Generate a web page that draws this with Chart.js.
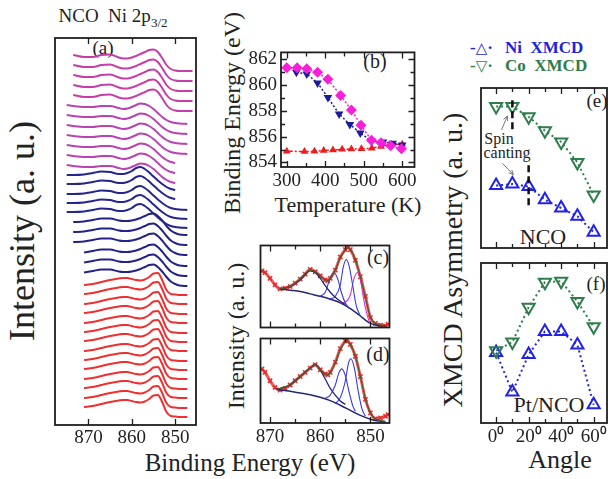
<!DOCTYPE html>
<html><head><meta charset="utf-8">
<script src="https://cdn.jsdelivr.net/npm/chart.js@4.4.1/dist/chart.umd.min.js"></script>
<style>
body{margin:0;background:#fff;width:616px;height:479px;overflow:hidden;position:relative;font-family:"Liberation Serif","Times New Roman",serif;}
canvas{position:absolute;}
.t{position:absolute;white-space:nowrap;color:#222;line-height:1;}
.c{transform:translate(-50%,-50%);}
.l{transform:translate(0,-50%);}
.rot{transform:translate(-50%,-50%) rotate(-90deg);}
sub{font-size:13px;vertical-align:-5px;}
.sym{font-family:"DejaVu Sans",sans-serif;font-weight:bold;font-size:15px;}
</style></head><body>
<div class="t c" style="left:113px;top:17px;font-size:19px">NCO&nbsp; Ni 2p<sub>3/2</sub></div>
<div class="t c" style="left:103px;top:47px;font-size:19px">(a)</div>
<div class="t rot" style="left:22px;top:231px;font-size:36px">Intensity (a. u.)</div>
<div class="t c" style="left:250px;top:462px;font-size:25px">Binding Energy (eV)</div>
<div class="t rot" style="left:232px;top:113px;font-size:24px">Binding Energy (eV)</div>
<div class="t c" style="left:348px;top:205px;font-size:22px">Temperature (K)</div>
<div class="t c" style="left:375px;top:61px;font-size:20px">(b)</div>
<div class="t rot" style="left:236px;top:336px;font-size:24px">Intensity (a. u.)</div>
<div class="t c" style="left:378px;top:257px;font-size:20px">(c)</div>
<div class="t c" style="left:378px;top:354px;font-size:20px">(d)</div>
<div class="t l" style="left:470px;top:47px;font-size:17px;font-weight:bold;color:#2323d8">-<span class="sym">△</span>·</div>
<div class="t l" style="left:505px;top:47px;font-size:17px;font-weight:bold;color:#2323d8">Ni&nbsp; XMCD</div>
<div class="t l" style="left:470px;top:65px;font-size:17px;font-weight:bold;color:#2e7d4a">-<span class="sym">▽</span>·</div>
<div class="t l" style="left:505px;top:65px;font-size:17px;font-weight:bold;color:#2e7d4a">Co&nbsp; XMCD</div>
<div class="t rot" style="left:453px;top:260px;font-size:28px">XMCD Asymmetry (a. u.)</div>
<div class="t c" style="left:560px;top:460px;font-size:26px">Angle</div>
<div class="t c" style="left:543px;top:237px;font-size:22px">NCO</div>
<div class="t c" style="left:549px;top:405px;font-size:22px">Pt/NCO</div>
<div class="t c" style="left:597px;top:100px;font-size:19px">(e)</div>
<div class="t c" style="left:596px;top:283px;font-size:19px">(f)</div>
<div class="t c" style="left:499px;top:139px;font-size:16px">Spin</div>
<div class="t c" style="left:507px;top:153px;font-size:16px">canting</div>
<script>
// ---------- Panel (a): stacked Ni 2p3/2 spectra ----------
const aEnergy = [875, 873.5, 871, 869, 867, 865, 863, 862, 861, 860, 859, 858, 857, 856, 855, 854, 853, 852, 851, 850, 849, 847.2, 846];
const aShapeM1 = [0, 0, -2, -2, 0, 0.5, -2.5, -3.5, -3.5, -2.5, -1, 1, 3, 5, 5.5, 3, -3, -10, -14, -15.5, -16, -16, -16];
const aShapeM2 = [0, -1, -2, -2, -1, -1, -3, -4, -3.5, -2, 0, 1.5, 1, -1, -4, -8, -12, -15, -17, -18, -18.5, -19, -19];
const aShapeB1 = [0, 0, 0.5, 2, 3.5, 3, 1, 1, 2, 4, 7, 8, 6, 2.5, -1.5, -5.5, -9, -12, -14, -15, -15.5, -16, -16];
const aShapeB2 = [null, 0, 0.5, 2, 3.5, 3.5, 1.5, 1, 1, 1.5, 2.5, 4, 6, 8, 8.5, 6, 1.5, -4, -8.5, -11, -12.5, -13, -13];
const aShapeR = [null, null, 0, 1, 3, 5, 6.5, 7, 7, 6, 5, 4.5, 5.5, 8, 11.5, 12, 5, -5, -9, -9.5, -10, -10, -10];
const aLevels = [370, 360, 350, 340, 330, 320, 310, 300, 290, 280, 270, 260,
  250, 241, 231, 222, 213, 203, 193, 183, 172, 162, 152,
  140, 131, 121, 112, 102, 93, 84, 74, 65, 56, 46, 37, 27, 18];
const aShapeOf = ['M1','M1','M1','M1','M1','M2','M2','M2','M2','M2','M2','M2',
  'B1','B1','B1','B1','B1','B2','B2','B2','B2','B2','B2',
  'R','R','R','R','R','R','R','R','R','R','R','R','R','R'];
const aStartE = [873.5,873.5,873.5,873.5,873.5,875,875,875,875,875,875,875,
  875,875,875,875,875,875,873.5,873.5,871,871,871,
  871,871,871,871,871,871,871,871,871,871,871,871,871,871];
const aEndE = [846,846,846,846,846,847.2,847.2,847.2,847.2,850,850,850,
  850,850,847.2,847.2,847.2,847.2,847.2,847.2,847.2,847.2,847.2,
  847.2,847.2,847.2,847.2,847.2,847.2,847.2,847.2,847.2,847.2,847.2,847.2,847.2,847.2];
const aTicks = [850, 860, 870];

// ---------- Panel (b): binding energy vs temperature ----------
const bTempMag = [300, 327, 352, 380, 407, 440, 468, 493, 520, 545, 570, 598];
const bBEMag = [861.35, 861.35, 861.28, 861.0, 860.46, 859.2, 858.07, 856.9, 855.73, 855.54, 855.3, 855.07];
const bTempBlue = [325, 352, 380, 407, 436, 464, 491, 520, 550, 575, 600];
const bBEBlue = [861.0, 860.88, 860.17, 859.05, 857.77, 856.95, 856.3, 855.66, 855.6, 855.5, 855.35];
const bTempRed = [300, 346, 372, 396, 420, 444, 468, 494, 521, 545, 572, 600];
const bBERed = [854.88, 854.85, 854.87, 854.93, 854.97, 855.02, 855.05, 855.07, 855.1, 855.25, 855.4, 855.42];
const bXTicks = [300, 350, 400, 450, 500, 550, 600];
const bXLabels = [300, 400, 500, 600];
const bYTicks = [854, 855, 856, 857, 858, 859, 860, 861, 862];
const bYLabels = [854, 856, 858, 860, 862];

// ---------- Panel (c): fitted spectrum ----------
const cExpE = [871.6, 871, 870, 869, 868, 867, 866, 865, 864, 863, 862, 861, 860, 859, 858.5, 858, 857, 856, 855, 854.5, 854, 853, 852, 851, 850, 849, 848, 847, 846.5];
const cExpY = [0.69, 0.67, 0.60, 0.52, 0.47, 0.48, 0.50, 0.54, 0.59, 0.65, 0.71, 0.68, 0.63, 0.58, 0.57, 0.60, 0.70, 0.86, 0.95, 0.98, 0.95, 0.82, 0.62, 0.38, 0.12, 0.05, 0.03, 0.02, 0.04];
const cFitE = [868, 866, 864, 862, 861, 860, 859, 858.5, 858, 857, 856, 855, 854.5, 854, 853, 852, 851, 850, 849, 848, 847];
const cFitY = [0.47, 0.50, 0.59, 0.70, 0.68, 0.63, 0.58, 0.575, 0.60, 0.70, 0.85, 0.94, 0.97, 0.95, 0.83, 0.62, 0.37, 0.13, 0.05, 0.03, 0.02];
const cBgE = [868, 866, 864, 862, 860, 858, 856, 854, 852, 851, 850, 849, 848, 847];
const cBgY = [0.47, 0.455, 0.44, 0.41, 0.38, 0.345, 0.30, 0.23, 0.14, 0.09, 0.05, 0.03, 0.02, 0.02];
const cSatE = [868, 866, 864, 862, 861, 860, 859, 858, 857, 856, 855];
const cSatY = [0.47, 0.50, 0.58, 0.69, 0.67, 0.60, 0.51, 0.43, 0.37, 0.32, 0.28];
const cPk1E = [860, 859, 858.2, 857.3, 856.5, 855.8, 855, 854.2];
const cPk1Y = [0.38, 0.43, 0.57, 0.67, 0.59, 0.43, 0.30, 0.23];
const cPk2E = [858, 857, 856, 855.4, 854.8, 854.2, 853.5, 852.8, 852];
const cPk2Y = [0.35, 0.38, 0.52, 0.74, 0.83, 0.74, 0.50, 0.26, 0.14];
const cPk3E = [856, 855, 854, 853.3, 852.6, 852, 851.3, 850.5, 850];
const cPk3Y = [0.30, 0.31, 0.40, 0.59, 0.67, 0.58, 0.33, 0.12, 0.05];

// ---------- Panel (d): fitted spectrum ----------
const dExpE = [871.6, 871, 870, 869, 868, 867, 866, 865, 864, 863, 862, 861, 860, 859, 858.5, 858, 857, 856, 855, 854.7, 854, 853, 852, 851, 850, 849, 848, 847, 846.5];
const dExpY = [0.64, 0.60, 0.50, 0.42, 0.39, 0.41, 0.45, 0.50, 0.55, 0.60, 0.65, 0.69, 0.63, 0.58, 0.57, 0.60, 0.72, 0.88, 0.97, 0.98, 0.93, 0.79, 0.55, 0.28, 0.12, 0.05, 0.06, 0.08, 0.10];
const dFitE = [868.7, 866, 864, 862, 861, 860, 859, 858.5, 858, 857, 856, 855, 854.7, 854, 853, 852, 851, 850, 849, 848, 847];
const dFitY = [0.40, 0.45, 0.55, 0.65, 0.69, 0.63, 0.58, 0.57, 0.60, 0.71, 0.87, 0.96, 0.97, 0.93, 0.79, 0.55, 0.29, 0.12, 0.05, 0.03, 0.02];
const dBgE = [868.7, 866, 864, 862, 860, 858, 856, 854, 852, 850, 848, 847];
const dBgY = [0.40, 0.375, 0.355, 0.335, 0.305, 0.265, 0.21, 0.15, 0.09, 0.045, 0.02, 0.015];
const dSatE = [868.7, 866, 864, 862, 861, 860, 859, 858, 857, 856, 855];
const dSatY = [0.40, 0.45, 0.55, 0.65, 0.69, 0.63, 0.52, 0.41, 0.33, 0.26, 0.22];
const dPk1E = [859, 858, 857, 856.3, 855.7, 855, 854.3, 853.5, 853];
const dPk1Y = [0.29, 0.33, 0.45, 0.59, 0.64, 0.56, 0.38, 0.20, 0.14];
const dPk2E = [857, 856, 855, 854.4, 853.9, 853.2, 852.5, 851.7, 851];
const dPk2Y = [0.23, 0.30, 0.50, 0.70, 0.76, 0.65, 0.40, 0.17, 0.08];
const cdTicks = [850, 855, 860, 865, 870];
const cdLabels = [850, 860, 870];

// ---------- Panels (e),(f): XMCD asymmetry vs angle ----------
const angles = [0, 10, 20, 30, 40, 50, 60];
const eCo = [0.884, 0.884, 0.820, 0.733, 0.663, 0.535, 0.331];
const eNi = [0.390, 0.400, 0.384, 0.302, 0.250, 0.198, 0.099];
const fCo = [0.452, 0.506, 0.723, 0.880, 0.886, 0.759, 0.602];
const fNi = [0.440, 0.193, 0.428, 0.572, 0.572, 0.488, 0.114];
const angleTicks = [0, 10, 20, 30, 40, 50, 60];
const angleLabels = [0, 20, 40, 60];
const cantAngles = [10, 20];
const cantTop = [0.924, 0.517];
const cantBottom = [0.725, 0.244];
const eArrows = [[3.3, 0.738, 6.9, 0.825], [3.9, 0.529, 10.6, 0.459]];

// ---------- helpers ----------
const FONT = "'Liberation Serif','Times New Roman',serif";
Chart.defaults.font.family = FONT;
Chart.defaults.color = '#222';
Chart.defaults.animation = false;

function xy(xs, ys) { return xs.map((x, i) => ({x: x, y: ys[i]})); }

function axis(o) {
  return {
    type: 'linear', min: o.min, max: o.max, reverse: !!o.reverse, display: !!o.show,
    grid: {display: false, drawTicks: false}, border: {display: false},
    ticks: {autoSkip: false, maxRotation: 0, minRotation: 0, padding: o.pad || 3,
      font: {size: o.fs || 19}, color: '#222',
      callback: v => (o.labels || []).includes(v) ? (o.fmt ? o.fmt(v) : String(v)) : ''},
    afterBuildTicks: s => { s.ticks = (o.ticks || []).map(v => ({value: v})); },
    afterFit: s => { if (o.horiz) s.height = o.size; else s.width = o.size; }
  };
}

const framePlugin = {
  id: 'frame',
  afterDraw(chart, args, o) {
    const ctx = chart.ctx, a = chart.chartArea;
    const sx = chart.scales.x, sy = chart.scales.y;
    ctx.save();
    ctx.strokeStyle = '#1e1e1e';
    ctx.lineWidth = 1.3;
    ctx.beginPath();
    (o.xt || []).forEach(v => {
      const p = Math.round(sx.getPixelForValue(v)) + 0.5;
      const L = (o.xl || []).includes(v) ? 6 : 4;
      ctx.moveTo(p, a.bottom); ctx.lineTo(p, a.bottom - L);
      ctx.moveTo(p, a.top); ctx.lineTo(p, a.top + L);
    });
    (o.yt || []).forEach(v => {
      const p = Math.round(sy.getPixelForValue(v)) + 0.5;
      const L = (o.yl || []).includes(v) ? 6 : 4;
      ctx.moveTo(a.left, p); ctx.lineTo(a.left + L, p);
      ctx.moveTo(a.right, p); ctx.lineTo(a.right - L, p);
    });
    ctx.stroke();
    ctx.lineWidth = o.lw || 1.8;
    ctx.strokeRect(a.left, a.top, a.right - a.left, a.bottom - a.top);
    ctx.restore();
  }
};
const arrowPlugin = {
  id: 'arrows',
  afterDatasetsDraw(chart, args, o) {
    if (!o.list) return;
    const ctx = chart.ctx, sx = chart.scales.x, sy = chart.scales.y;
    ctx.save();
    ctx.strokeStyle = '#777'; ctx.lineWidth = 1;
    o.list.forEach(r => {
      const x1 = sx.getPixelForValue(r[0]), y1 = sy.getPixelForValue(r[1]);
      const x2 = sx.getPixelForValue(r[2]), y2 = sy.getPixelForValue(r[3]);
      const ang = Math.atan2(y2 - y1, x2 - x1);
      ctx.beginPath(); ctx.moveTo(x1, y1); ctx.lineTo(x2, y2);
      ctx.moveTo(x2, y2);
      ctx.lineTo(x2 - 5 * Math.cos(ang - 0.45), y2 - 5 * Math.sin(ang - 0.45));
      ctx.moveTo(x2, y2);
      ctx.lineTo(x2 - 5 * Math.cos(ang + 0.45), y2 - 5 * Math.sin(ang + 0.45));
      ctx.stroke();
    });
    ctx.restore();
  }
};
Chart.register(framePlugin, arrowPlugin);

function panel(box, pad, cfg) {
  const cv = document.createElement('canvas');
  const w = box[2] - box[0] + pad[0] + pad[2], h = box[3] - box[1] + pad[1] + pad[3];
  cv.width = w; cv.height = h;
  cv.style.left = (box[0] - pad[0]) + 'px'; cv.style.top = (box[1] - pad[1]) + 'px';
  cv.style.width = w + 'px'; cv.style.height = h + 'px';
  document.body.appendChild(cv);
  cfg.options.responsive = false;
  cfg.options.animation = false;
  cfg.options.plugins = Object.assign({legend: {display: false}, tooltip: {enabled: false}}, cfg.options.plugins || {});
  return new Chart(cv, cfg);
}

// ---------- draw (a) ----------
const aShapes = {M1: aShapeM1, M2: aShapeM2, B1: aShapeB1, B2: aShapeB2, R: aShapeR};
const aColors = {M1: '#c63fa9', M2: '#b843b2', B1: '#25258e', B2: '#22228a', R: '#f03030'};
const aDatasets = aLevels.map((lv, k) => {
  const sh = aShapes[aShapeOf[k]];
  const data = [];
  aEnergy.forEach((e, i) => {
    if (e <= aStartE[k] && e >= aEndE[k] && sh[i] !== null) data.push({x: e, y: lv + sh[i]});
  });
  data.reverse();
  return {data: data, borderColor: aColors[aShapeOf[k]], borderWidth: 2, pointRadius: 0,
    cubicInterpolationMode: 'monotone', fill: false};
});
panel([55, 38, 196, 425], [3, 3, 3, 26], {
  type: 'line', data: {datasets: aDatasets},
  options: {
    layout: {padding: {left: 3, top: 3, right: 3, bottom: 0}},
    scales: {
      x: axis({min: 845.2, max: 877.7, reverse: true, show: true, ticks: aTicks, labels: aTicks, horiz: true, size: 26, pad: 2}),
      y: {type: 'linear', display: false, min: 0, max: 387}
    },
    plugins: {frame: {xt: aTicks, xl: aTicks}}
  }
});

// ---------- draw (b) ----------
panel([281, 40, 416, 167], [42, 3, 4, 24], {
  type: 'line',
  data: {datasets: [
    {data: xy(bTempMag, bBEMag), borderColor: '#f520d8', backgroundColor: '#f520d8', borderWidth: 1.5, borderDash: [2, 2],
      pointStyle: 'rectRot', pointRadius: 5.5, pointBorderWidth: 0},
    {data: xy(bTempBlue, bBEBlue), borderColor: '#1a1a9a', backgroundColor: '#1a1a9a', borderWidth: 1.5, borderDash: [2, 2],
      pointStyle: 'triangle', rotation: 180, pointRadius: 5, pointBorderWidth: 0},
    {data: xy(bTempRed, bBERed), borderColor: '#ee1c1c', backgroundColor: '#ee1c1c', borderWidth: 1.5, borderDash: [6, 2, 2, 2],
      pointStyle: 'triangle', pointRadius: 4.5, pointBorderWidth: 0}
  ]},
  options: {
    layout: {padding: {left: 0, top: 3, right: 4, bottom: 0}},
    scales: {
      x: axis({min: 285, max: 632, show: true, ticks: bXTicks, labels: bXLabels, horiz: true, size: 24, pad: 3}),
      y: axis({min: 853.65, max: 862.55, show: true, ticks: bYTicks, labels: bYLabels, size: 42, pad: 4})
    },
    plugins: {frame: {xt: bXTicks, xl: bXLabels, yt: bYTicks, yl: bYLabels}}
  }
});

// ---------- draw (c),(d) ----------
function fitSets(expE, expY, fitE, fitY, satE, satY, bgE, bgY, peaks) {
  const sets = [
    {data: xy(fitE, fitY), borderColor: '#4b5d2e', borderWidth: 1.2, pointRadius: 0, cubicInterpolationMode: 'monotone'},
    {data: xy(satE, satY), borderColor: '#262670', borderWidth: 1.3, pointRadius: 0, cubicInterpolationMode: 'monotone'}
  ];
  peaks.forEach(p => sets.push({data: xy(p[0], p[1]), borderColor: p[2], borderWidth: 1.1, pointRadius: 0, cubicInterpolationMode: 'monotone'}));
  sets.push({data: xy(bgE, bgY), borderColor: '#262670', borderWidth: 1.5, pointRadius: 0, cubicInterpolationMode: 'monotone'});
  sets.push({data: xy(expE, expY), borderColor: 'rgba(240,60,60,0.85)', borderWidth: 3, pointStyle: 'crossRot',
    pointRadius: 3, pointBorderWidth: 1.5, pointBorderColor: '#e82a2a', cubicInterpolationMode: 'monotone'});
  return sets;
}
panel([258, 243, 392, 330], [3, 3, 3, 3], {
  type: 'line',
  data: {datasets: fitSets(cExpE, cExpY, cFitE, cFitY, cSatE, cSatY, cBgE, cBgY,
    [[cPk1E, cPk1Y, '#3838e0'], [cPk2E, cPk2Y, '#3838e0'], [cPk3E, cPk3Y, '#e030d0']])},
  options: {
    layout: {padding: 3},
    scales: {
      x: axis({min: 846.2, max: 871.9, reverse: true, show: false, ticks: cdTicks}),
      y: {type: 'linear', display: false, min: 0, max: 1}
    },
    plugins: {frame: {xt: cdTicks, xl: cdLabels}}
  }
});
panel([258, 336, 392, 423], [3, 3, 3, 26], {
  type: 'line',
  data: {datasets: fitSets(dExpE, dExpY, dFitE, dFitY, dSatE, dSatY, dBgE, dBgY,
    [[dPk1E, dPk1Y, '#3838e0'], [dPk2E, dPk2Y, '#3838e0']])},
  options: {
    layout: {padding: {left: 3, top: 3, right: 3, bottom: 0}},
    scales: {
      x: axis({min: 846.2, max: 871.9, reverse: true, show: true, ticks: cdTicks, labels: cdLabels, horiz: true, size: 26, pad: 3}),
      y: {type: 'linear', display: false, min: 0, max: 1}
    },
    plugins: {frame: {xt: cdTicks, xl: cdLabels}}
  }
});

// ---------- draw (e),(f) ----------
function tri(ys, color, down) {
  return {data: xy(angles, ys), borderColor: color, borderWidth: 2, borderDash: [2, 3],
    pointStyle: 'triangle', rotation: down ? 180 : 0, pointRadius: 7, pointBorderWidth: 2,
    pointBorderColor: color, pointBackgroundColor: 'rgba(255,255,255,0)'};
}
const cantSets = cantAngles.map((a, i) => ({data: [{x: a, y: cantTop[i]}, {x: a, y: cantBottom[i]}],
  borderColor: '#111', borderWidth: 2.5, borderDash: [7, 4], pointRadius: 0}));
panel([475, 82, 614, 254], [3, 3, 2, 3], {
  type: 'line',
  data: {datasets: cantSets.concat([tri(eCo, '#2e7d4a', true), tri(eNi, '#2222e6', false)])},
  options: {
    layout: {padding: {left: 3, top: 3, right: 2, bottom: 3}},
    scales: {
      x: axis({min: -9.3, max: 68.2, show: false, ticks: angleTicks}),
      y: {type: 'linear', display: false, min: 0, max: 1}
    },
    plugins: {frame: {xt: angleTicks, xl: angleLabels}, arrows: {list: eArrows}}
  }
});
panel([475, 257, 614, 423], [3, 3, 2, 26], {
  type: 'line',
  data: {datasets: [tri(fCo, '#2e7d4a', true), tri(fNi, '#2222e6', false)]},
  options: {
    layout: {padding: {left: 3, top: 3, right: 2, bottom: 0}},
    scales: {
      x: axis({min: -9.3, max: 68.2, show: true, ticks: angleTicks, labels: angleLabels, horiz: true, size: 26, pad: 3,
        fmt: v => v + '\u2070'}),
      y: {type: 'linear', display: false, min: 0, max: 1}
    },
    plugins: {frame: {xt: angleTicks, xl: angleLabels}}
  }
});
</script>
</body></html>
